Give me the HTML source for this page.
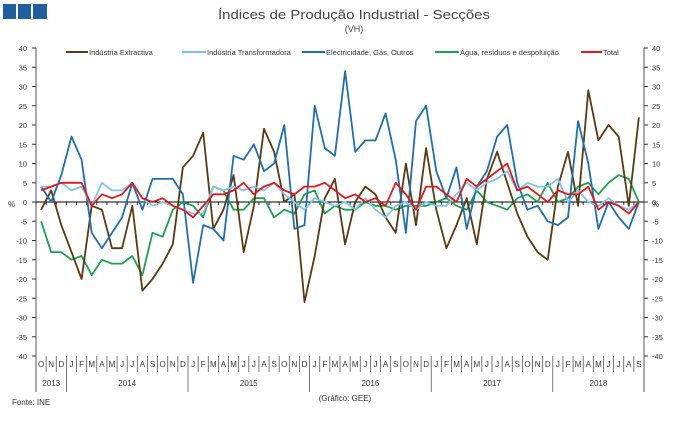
<!DOCTYPE html>
<html><head><meta charset="utf-8"><style>
body{margin:0;background:#fff;}
svg{display:block;font-family:"Liberation Sans",sans-serif;}
</style></head><body>
<svg id="s" width="689" height="421" xmlns="http://www.w3.org/2000/svg">
<rect x="3" y="4" width="13" height="15" fill="#1f5fa0"/>
<rect x="18" y="4" width="13" height="15" fill="#1f5fa0"/>
<rect x="33" y="4" width="14" height="15" fill="#1f5fa0"/>
<text x="354" y="19" font-size="13" fill="#444" text-anchor="middle" textLength="272" lengthAdjust="spacingAndGlyphs">Índices de Produção Industrial - Secções</text>
<text x="354" y="32" font-size="9" fill="#444" text-anchor="middle">(VH)</text>
<g font-size="7.5" fill="#333">
<line x1="66" y1="52" x2="88" y2="52" stroke="#5a3a10" stroke-width="2"/><text x="89" y="55">Indústria Extractiva</text>
<line x1="182" y1="52" x2="206" y2="52" stroke="#7fc4ec" stroke-width="2"/><text x="207" y="55">Indústria Transformadora</text>
<line x1="302" y1="52" x2="325" y2="52" stroke="#1f6fb0" stroke-width="2"/><text x="326" y="55">Electricidade, Gás, Outros</text>
<line x1="435" y1="52" x2="459" y2="52" stroke="#1fa050" stroke-width="2"/><text x="460" y="55">Água, resíduos e despoluição</text>
<line x1="581" y1="52" x2="602" y2="52" stroke="#e01818" stroke-width="2"/><text x="603" y="55">Total</text>
<text x="8" y="207" font-size="8">%</text><text x="652" y="207" font-size="8">%</text>
</g>
<g id="g"></g>
<text x="12" y="405" font-size="8" fill="#333">Fonte: INE</text>
<text x="345" y="401" font-size="8" fill="#333" text-anchor="middle">(Gráfico: GEE)</text>
</svg>
<script>
const g=document.getElementById('g');let h='';
const L=36,R=644,T=48,B=356,y0=202,sc=(B-T)/80,st=(R-L)/60;
const Y=v=>y0-v*sc,X=i=>L+st*(i+0.5);
h+=`<line x1="${L}" y1="${T}" x2="${L}" y2="${B+36}" stroke="#555"/><line x1="${R}" y1="${T}" x2="${R}" y2="${B+36}" stroke="#555"/>`;
for(let v=-40;v<=40;v+=5){const y=Y(v);
h+=`<line x1="${L-4}" y1="${y}" x2="${L}" y2="${y}" stroke="#333"/><line x1="${R}" y1="${y}" x2="${R+4}" y2="${y}" stroke="#333"/>`;
h+=`<text x="${L-9}" y="${y+3}" font-size="7.5" fill="#333" text-anchor="end">${v}</text><text x="${R+8}" y="${y+3}" font-size="7.5" fill="#333">${v}</text>`;}
const m="ONDJFMAMJJASONDJFMAMJJASONDJFMAMJJASONDJFMAMJJASONDJFMAMJJASONDJFMAMJJAS";
for(let i=0;i<60;i++){h+=`<text x="${X(i)}" y="${B+11}" font-size="8" fill="#333" text-anchor="middle">${m[i]}</text>`;
 h+=`<line x1="${L+st*i}" y1="${y0}" x2="${L+st*i}" y2="${y0+3}" stroke="#333"/>`;
 if(i>0){const yb=(i-3)%12==0?B+36:B+16;h+=`<line x1="${L+st*i}" y1="${B}" x2="${L+st*i}" y2="${yb}" stroke="#555" stroke-width="0.8"/>`;}}
const yrs=[[0,3,'2013'],[3,15,'2014'],[15,27,'2015'],[27,39,'2016'],[39,51,'2017'],[51,60,'2018']];
yrs.forEach(a=>h+=`<text x="${L+st*(a[0]+a[1])/2}" y="${B+30}" font-size="8" fill="#333" text-anchor="middle">${a[2]}</text>`);
h+=`<line x1="${L}" y1="${y0}" x2="${R}" y2="${y0}" stroke="#000"/>`;
const D={
"#1fa050":[-5,-13,-13,-15,-14,-19,-15,-16,-16,-14,-19,-8,-9,-2,0,-1,-4,4,3,-2,-2,1,1,-4,-2,-3,2,3,-3,-1,-2,-2,0,-1,-1,-2,-1,-1,-1,0,1,-1,-2,3,0,-1,-2,1,2,0,5,0,1,4,5,2,5,7,6,0],
"#5a3a10":[-2,3,-6,-13,-20,-1,-2,-12,-12,-1,-23,-20,-16,-11,9,12,18,-7,-2,7,-13,-1,19,13,0,2,-26,-14,1,6,-11,0,4,2,-4,-8,10,-6,14,-2,-12,-6,1,-11,6,13,5,-3,-9,-13,-15,4,13,-1,29,16,20,17,-1,22],
"#1f6fb0":[4,0,7,17,11,-8,-12,-8,-4,5,-2,6,6,6,2,-21,-6,-7,-10,12,11,15,8,10,20,-7,-6,25,14,12,34,13,16,16,23,11,-8,21,25,8,1,9,-7,4,8,17,20,5,-2,-1,-5,-6,-4,21,10,-7,0,-4,-7,0],
"#7fc4ec":[4,4,5,3,4,-1,5,3,3,5,1,-1,0,-1,-2,-3,-3,4,3,4,3,4,3,5,2,0,-2,1,0,-1,0,-2,1,-2,-4,-1,0,-2,0,-1,-1,2,5,3,5,6,8,3,5,4,4,6,0,3,0,-1,1,-1,-2,0],
"#e01818":[3,4,5,5,5,-1,2,1,2,5,1,0,1,-1,-2,-4,-1,2,2,3,5,2,4,5,3,2,4,4,5,3,1,2,0,1,-1,5,2,-2,4,4,2,0,6,4,6,8,10,3,4,2,0,3,2,2,4,-2,0,-1,-3,0]};
for(const c in D)h+=`<polyline fill="none" stroke="${c}" stroke-width="1.8" stroke-linejoin="round" points="${D[c].map((v,i)=>X(i).toFixed(1)+','+Y(v).toFixed(1)).join(' ')}"/>`;
g.innerHTML=h;
</script>
</body></html>
